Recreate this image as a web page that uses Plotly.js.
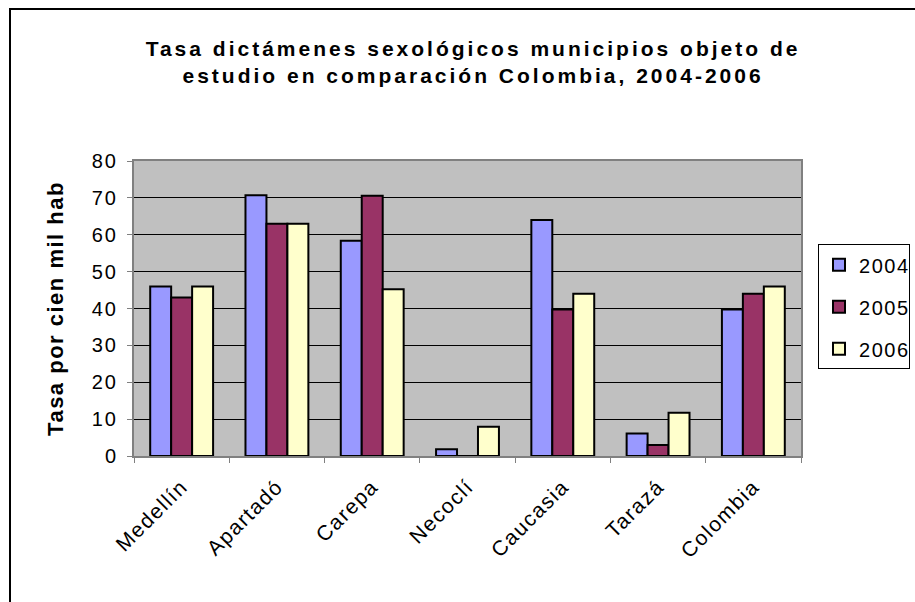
<!DOCTYPE html>
<html>
<head>
<meta charset="utf-8">
<script src="https://cdn.plot.ly/plotly-3.0.1.min.js"></script>
<style>
  html, body { margin: 0; padding: 0; background: #fff; overflow: hidden; }
  #wrap { position: relative; width: 915px; height: 602px; overflow: hidden; }
  #frame { position: absolute; left: 9px; top: 8px; width: 920px; height: 620px; border: 2px solid #000; box-sizing: border-box; pointer-events: none; z-index: 5; }
  #chart { position: absolute; left: 0; top: 0; width: 915px; height: 602px; }
  #chart .gtitle { letter-spacing: 3px; }
  #chart .ytitle { letter-spacing: 1.5px; }
  #chart .xtick text { letter-spacing: 1.5px; }
  #chart .ytick text { letter-spacing: 2px; }
  #chart .legendtext { letter-spacing: 1.5px; }
</style>
</head>
<body>
<div id="wrap">
  <div id="chart"></div>
  <div id="frame"></div>
</div>
<script>
const categories = ["Medellín", "Apartadó", "Carepa", "Necoclí", "Caucasia", "Tarazá", "Colombia"];
const years = ["2004", "2005", "2006"];
const values2004 = [46, 70.7, 58.4, 1.8, 64, 6.1, 39.7];
const values2005 = [43, 63, 70.6, 0, 39.7, 3.0, 44];
const values2006 = [46, 63, 45.2, 7.9, 44, 11.7, 46];
const yTicks = [0, 10, 20, 30, 40, 50, 60, 70, 80];
const colors = ["#9999FF", "#993366", "#FFFFCC"];

const series = [values2004, values2005, values2006];
const FONT = "Liberation Sans, Arial, sans-serif";

const traces = series.map((vals, i) => ({
  type: "bar",
  name: years[i],
  x: categories,
  y: vals,
  legendgroup: "g" + i,
  marker: { color: colors[i], line: { color: "#000", width: 2 } },
  hoverinfo: "x+y+name"
}));

const layout = {
  width: 915,
  height: 602,
  paper_bgcolor: "#fff",
  plot_bgcolor: "#C0C0C0",
  margin: { l: 134, r: 114, t: 161, b: 146, autoexpand: false },
  font: { family: FONT, color: "#000" },
  title: {
    text: "<b>Tasa dictámenes sexológicos municipios objeto de<br>estudio en comparación Colombia, 2004-2006</b>",
    font: { family: FONT, size: 21, color: "#000" },
    x: 0.517, xanchor: "center",
    y: 0.907, yanchor: "middle"
  },
  barmode: "group",
  bargap: 0.34,
  bargroupgap: 0,
  showlegend: true,
  legend: {
    x: 1.0255, xanchor: "left",
    y: 0.718, yanchor: "top",
    bordercolor: "#000", borderwidth: 1,
    bgcolor: "#fff",
    font: { family: FONT, size: 20, color: "#000" },
    tracegroupgap: 13,
    itemwidth: 30
  },
  xaxis: {
    type: "category",
    tickson: "boundaries",
    ticks: "outside",
    ticklen: 5,
    tickcolor: "#808080",
    tickangle: -45,
    ticklabelstandoff: 8,
    tickfont: { family: FONT, size: 21, color: "#000" },
    showgrid: false,
    showline: true,
    linecolor: "#808080",
    linewidth: 2,
    mirror: true
  },
  yaxis: {
    range: [0, 80],
    tickvals: yTicks,
    ticktext: yTicks.map(String),
    ticks: "outside",
    ticklen: 5,
    tickcolor: "#808080",
    ticklabelstandoff: 5,
    tickfont: { family: FONT, size: 20, color: "#000" },
    showgrid: true,
    gridcolor: "#000",
    gridwidth: 1,
    zeroline: false,
    showline: true,
    linecolor: "#808080",
    linewidth: 2,
    mirror: true,
    title: {
      text: "<b>Tasa por cien mil hab</b>",
      font: { family: FONT, size: 22, color: "#000" },
      standoff: 26
    }
  }
};

Plotly.newPlot("chart", traces, layout, { displayModeBar: false });
</script>
</body>
</html>
